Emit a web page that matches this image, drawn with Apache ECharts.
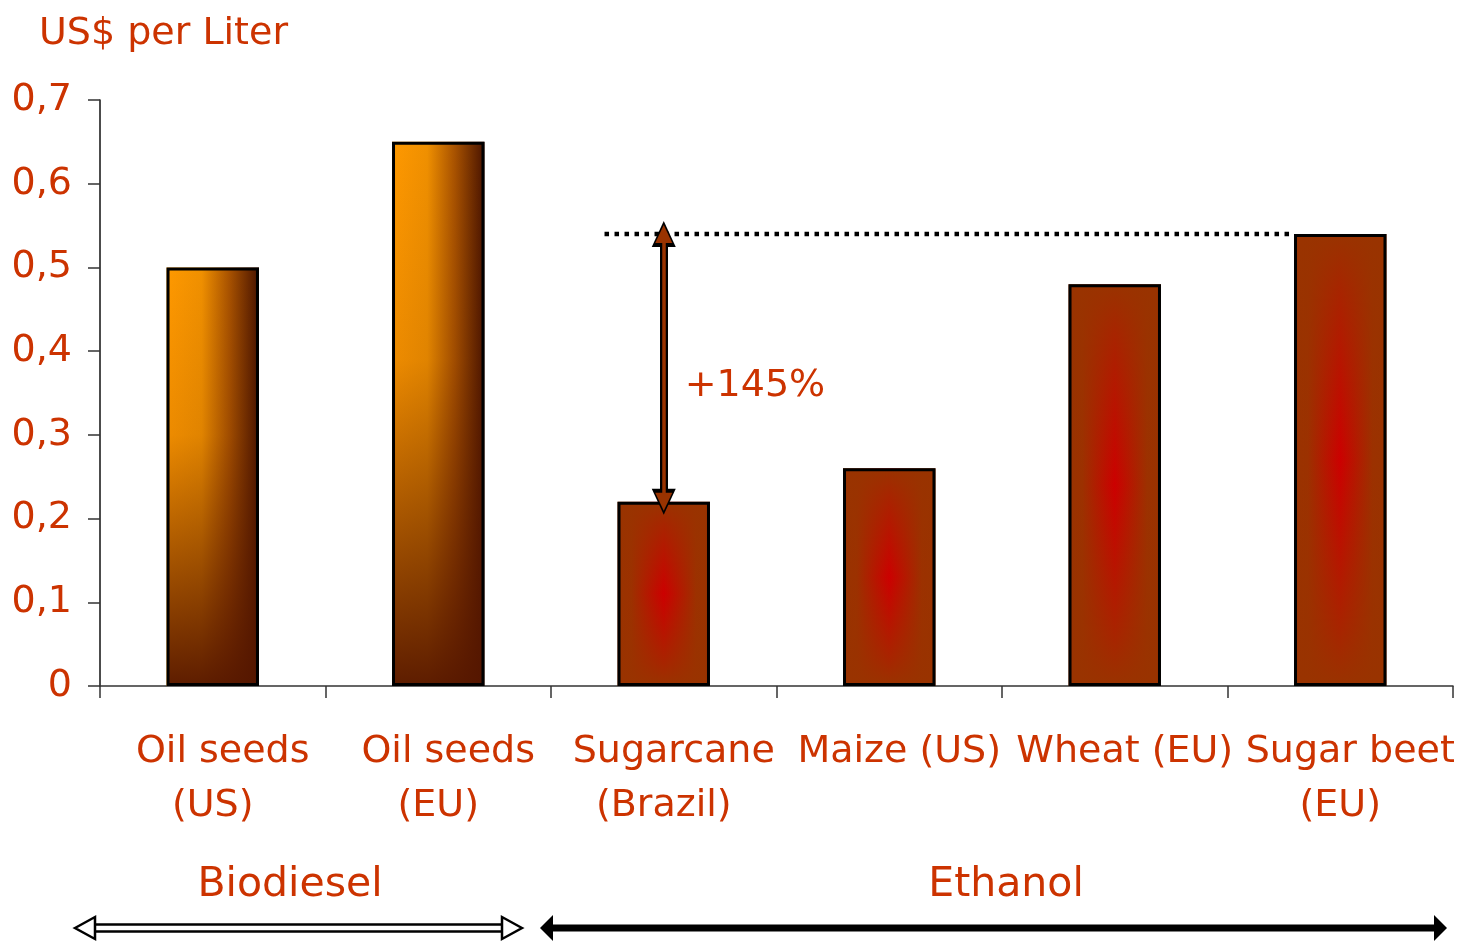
<!DOCTYPE html>
<html>
<head>
<meta charset="utf-8">
<script src="https://cdn.jsdelivr.net/npm/echarts@6/dist/echarts.min.js"></script>
<style>
  html, body { margin: 0; padding: 0; background: #fff; }
  #chart { width: 1461px; height: 944px; }
</style>
</head>
<body>
<div id="chart"></div>
<script>
var categories = ['Oil seeds\n(US)', 'Oil seeds\n(EU)', 'Sugarcane\n(Brazil)', 'Maize (US)', 'Wheat (EU)', 'Sugar beet\n(EU)'];
var fuels = ['Biodiesel', 'Biodiesel', 'Ethanol', 'Ethanol', 'Ethanol', 'Ethanol'];
var costs = [0.50, 0.65, 0.22, 0.26, 0.48, 0.54];
var groupNames = ['Biodiesel', 'Ethanol'];
var gapLabel = '+145%';
var gapFrom = 2;   // Sugarcane
var gapTo = 5;     // Sugar beet

var red = '#cc3300';
var font = 'DejaVu Sans, Verdana, sans-serif';

function lin(x2, y2, stops) {
  return { type: 'linear', x: 0, y: 0, x2: x2, y2: y2, colorStops: stops.map(function(s) { return { offset: s[0], color: s[1] }; }) };
}

var baseFill = {
  Biodiesel: lin(1, 0, [[0, '#ff9900'], [0.38, '#f09000'], [0.68, '#a85200'], [1, '#4a1400']]),
  Ethanol: lin(1, 0, [[0, '#993300'], [0.15, '#9c3100'], [0.5, '#cc0000'], [0.85, '#9c3100'], [1, '#993300']])
};
var overFill = {
  Biodiesel: lin(0, 1, [[0, 'rgba(85,22,0,0)'], [0.4, 'rgba(85,22,0,0.1)'], [1, 'rgba(85,22,0,0.95)']]),
  Ethanol: lin(0, 1, [[0, 'rgba(153,51,0,1)'], [0.12, 'rgba(153,51,0,0.72)'], [0.5, 'rgba(153,51,0,0)'], [0.88, 'rgba(153,51,0,0.72)'], [1, 'rgba(153,51,0,1)']])
};

// vertical gap arrow between Sugarcane and Sugar beet levels
var gapArrow = [[
  { coord: [gapFrom, costs[gapTo]], symbolRotate: 0 },
  { coord: [gapFrom, costs[gapFrom]], symbolRotate: 180 }
]];

var chart = echarts.init(document.getElementById('chart'), null, { renderer: 'canvas' });
chart.setOption({
  animation: false,
  backgroundColor: '#fff',
  title: {
    text: 'US$ per Liter', left: 34, top: 10,
    textStyle: { color: red, fontFamily: font, fontSize: 38, fontWeight: 'normal' }
  },
  grid: { left: 100, right: 8, top: 100, bottom: 258 },
  xAxis: {
    type: 'category',
    data: categories,
    axisLine: { lineStyle: { color: '#333', width: 1.5 } },
    axisTick: { show: true, length: 12, inside: false, lineStyle: { color: '#333', width: 1.5 } },
    axisLabel: {
      interval: 0, color: red, fontFamily: font, fontSize: 38, lineHeight: 54, margin: 39,
      formatter: function(v) {
        var parts = v.split('\n');
        return '{a|' + parts[0] + '}' + (parts[1] ? '\n{b|' + parts[1] + '}' : '');
      },
      rich: {
        a: { color: red, fontFamily: font, fontSize: 38, lineHeight: 54, padding: [0, 0, 0, 20] },
        b: { color: red, fontFamily: font, fontSize: 38, lineHeight: 54 }
      }
    }
  },
  yAxis: {
    type: 'value',
    min: 0, max: 0.7, interval: 0.1,
    axisLine: { show: true, lineStyle: { color: '#111', width: 1.5 } },
    axisTick: { show: true, length: 12, lineStyle: { color: '#333', width: 1.5 } },
    splitLine: { show: false },
    axisLabel: {
      color: red, fontFamily: font, fontSize: 38, margin: 28,
      formatter: function(v) { return (Math.round(v * 10) / 10).toString().replace('.', ','); }
    }
  },
  series: [
    {
      type: 'bar',
      barWidth: '41%',
      data: costs.map(function(v, i) { return { value: v, itemStyle: { color: baseFill[fuels[i]] } }; }),
      markLine: {
        silent: true,
        symbol: ['triangle', 'triangle'],
        symbolSize: [24, 26],
        label: { show: false },
        lineStyle: { color: '#000', width: 8, type: 'solid' },
        emphasis: { disabled: true },
        data: gapArrow
      }
    },
    {
      type: 'bar',
      barWidth: '41%',
      barGap: '-100%',
      silent: true,
      data: costs.map(function(v, i) {
        return { value: v, itemStyle: { color: overFill[fuels[i]], borderColor: '#000', borderWidth: 3 } };
      }),
      markLine: {
        silent: true,
        symbol: ['triangle', 'triangle'],
        symbolSize: [17, 18],
        label: { show: false },
        lineStyle: { color: '#993300', width: 3.5, type: 'solid' },
        emphasis: { disabled: true },
        data: gapArrow
      }
    }
  ]
});

// annotations placed through the chart's own scales
function px(i, v) { return chart.convertToPixel({ seriesIndex: 0 }, [i, v]); }
var band = px(1, 0)[0] - px(0, 0)[0];
var yTop = px(gapTo, costs[gapTo])[1];
var yLow = px(gapFrom, costs[gapFrom])[1];
var xGap = px(gapFrom, 0)[0];
var barHalf = band * 0.41 / 2;

function edge(i, side) { return px(i, 0)[0] + side * band / 2; }

var yArrow = 928, yGroup = 885;
var bioL = edge(0, -1) - 25, bioR = edge(1, 1) - 29;
var ethL = edge(2, -1) - 11, ethR = edge(5, 1) - 6;

chart.setOption({
  graphic: [
    { type: 'line', silent: true, z: 1,
      shape: { x1: xGap - barHalf - 13, y1: yTop, x2: px(gapTo, 0)[0] - barHalf, y2: yTop },
      style: { stroke: '#000', lineWidth: 4.5, lineDash: [4.5, 5.5] } },
    { type: 'text', silent: true,
      x: xGap + 21, y: (yTop + yLow) / 2 + 18,
      style: { text: gapLabel, fill: red, font: '38px ' + font, textVerticalAlign: 'middle' } },
    { type: 'text', silent: true,
      x: 290, y: yGroup,
      style: { text: groupNames[0], fill: red, font: '41px ' + font, textAlign: 'center', textVerticalAlign: 'middle' } },
    { type: 'text', silent: true,
      x: 1006, y: yGroup,
      style: { text: groupNames[1], fill: red, font: '41px ' + font, textAlign: 'center', textVerticalAlign: 'middle' } },
    // hollow double arrow (Biodiesel)
    { type: 'polygon', silent: true,
      shape: { points: [[bioL + 18, yArrow - 3.5], [bioR - 18, yArrow - 3.5], [bioR - 18, yArrow + 3.5], [bioL + 18, yArrow + 3.5]] },
      style: { fill: '#fff', stroke: '#000', lineWidth: 2.5 } },
    { type: 'polygon', silent: true,
      shape: { points: [[bioL, yArrow], [bioL + 20, yArrow - 11], [bioL + 20, yArrow + 11]] },
      style: { fill: '#fff', stroke: '#000', lineWidth: 2.5 } },
    { type: 'polygon', silent: true,
      shape: { points: [[bioR, yArrow], [bioR - 20, yArrow - 11], [bioR - 20, yArrow + 11]] },
      style: { fill: '#fff', stroke: '#000', lineWidth: 2.5 } },
    // solid double arrow (Ethanol)
    { type: 'line', silent: true,
      shape: { x1: ethL + 10, y1: yArrow, x2: ethR - 10, y2: yArrow },
      style: { stroke: '#000', lineWidth: 7 } },
    { type: 'polygon', silent: true,
      shape: { points: [[ethL, yArrow], [ethL + 13, yArrow - 13], [ethL + 13, yArrow + 13]] },
      style: { fill: '#000' } },
    { type: 'polygon', silent: true,
      shape: { points: [[ethR, yArrow], [ethR - 13, yArrow - 13], [ethR - 13, yArrow + 13]] },
      style: { fill: '#000' } }
  ]
});
window.addEventListener('resize', function() { chart.resize(); });
</script>
</body>
</html>
